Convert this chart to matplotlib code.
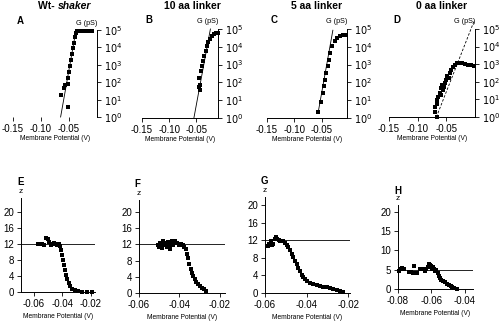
import numpy as np
import matplotlib
matplotlib.use('Agg')
import matplotlib.pyplot as plt
from matplotlib.ticker import FixedLocator, FuncFormatter

plt.rcParams['font.family'] = ['Liberation Sans', 'DejaVu Sans']

# top row: membrane potential (V) vs log10 G (pS)
a_v = [-0.0637, -0.0578, -0.0561, -0.052, -0.052, -0.0503, -0.052, -0.048, -0.0462, -0.0444,
       -0.0427, -0.0409, -0.0392, -0.0374, -0.0357, -0.0316, -0.028, -0.024, -0.02, -0.016, -0.012, -0.0085]
a_logg = [1.29, 1.69, 1.83, 1.92, 2.27, 2.6, 0.58, 2.92, 3.27, 3.62,
          3.94, 4.27, 4.58, 4.81, 4.94, 4.96, 4.96, 4.96, 4.96, 4.96, 4.96, 4.96]
a_fit_v = [-0.0646, -0.0372]
a_fit_logg = [0, 5]

b_v = [-0.0458, -0.044, -0.044, -0.0452, -0.041, -0.039, -0.0368, -0.035, -0.0326, -0.030,
       -0.0277, -0.0253, -0.0217, -0.018, -0.0138, -0.0108]
b_logg = [2.25, 1.87, 1.59, 1.74, 2.62, 2.9, 3.18, 3.46, 3.75, 4.03,
          4.25, 4.44, 4.63, 4.72, 4.76, 4.78]
b_fit_v = [-0.0544, -0.024]
b_fit_logg = [0, 5]

c_v = [-0.0567, -0.0518, -0.0487, -0.0464, -0.044, -0.0415, -0.039, -0.0367, -0.0342, -0.0306,
       -0.0264, -0.0222, -0.0173, -0.0113, -0.0064]
c_logg = [0.32, 0.88, 1.4, 1.78, 2.15, 2.53, 2.9, 3.28, 3.65, 4.03,
          4.31, 4.49, 4.59, 4.64, 4.66]
c_fit_v = [-0.0567, -0.0298]
c_fit_logg = [0.3, 4.93]

d_v = [-0.0703, -0.0691, -0.0668, -0.0645, -0.0656, -0.0616, -0.0587, -0.0599, -0.0558, -0.057,
       -0.053, -0.0541, -0.05, -0.0483, -0.046, -0.0443, -0.0414, -0.0385, -0.0356, -0.031,
       -0.027, -0.023, -0.0183, -0.0125, -0.0068, -0.002, -0.067]
d_logg = [0.29, 0.57, 0.95, 1.15, 0.76, 1.34, 1.24, 1.62, 1.53, 1.81,
          1.91, 1.68, 2.1, 2.33, 2.19, 2.48, 2.67, 2.86, 2.96, 3.05,
          3.09, 3.05, 3.02, 2.98, 2.94, 2.9, 0.0]
d_fit_v = [-0.0673, -0.001]
d_fit_logg = [0, 5.5]

# bottom row: membrane potential (V) vs z
e_v = [-0.0572, -0.0558, -0.0544, -0.0529, -0.0511, -0.0501, -0.0492, -0.0482, -0.0471, -0.0459,
       -0.0447, -0.0435, -0.0426, -0.0416, -0.0407, -0.04, -0.0393, -0.0386, -0.0379, -0.0372,
       -0.0365, -0.0355, -0.0346, -0.0332, -0.0313, -0.0289, -0.0259, -0.0224, -0.0188]
e_z = [12.1, 12.0, 12.1, 11.7, 13.6, 13.2, 12.6, 11.7, 11.9, 12.3,
       12.1, 11.7, 11.9, 11.4, 10.4, 9.3, 8.0, 6.8, 5.5, 4.3,
       3.2, 2.2, 1.4, 0.8, 0.4, 0.2, 0.1, 0.05, 0.0]

f_v = [-0.0505, -0.05, -0.0495, -0.0489, -0.0485, -0.048, -0.0475, -0.0469, -0.0464, -0.0459,
       -0.0452, -0.0448, -0.0443, -0.0436, -0.0431, -0.0423, -0.0418, -0.041, -0.0403, -0.0397,
       -0.039, -0.0384, -0.0377, -0.037, -0.0364, -0.0357, -0.0351, -0.0344, -0.0338, -0.0331,
       -0.0325, -0.0318, -0.0308, -0.0298, -0.0289, -0.0279, -0.0269]
f_z = [11.9, 11.4, 12.4, 11.8, 11.1, 12.8, 11.9, 12.2, 11.4, 12.6,
       11.9, 10.9, 12.3, 12.8, 11.8, 12.9, 12.2, 12.4, 11.8, 11.9,
       12.1, 11.8, 11.4, 10.8, 9.7, 8.5, 7.2, 6.0, 5.0, 4.2,
       3.4, 2.7, 2.2, 1.7, 1.2, 0.9, 0.6]

g_v = [-0.0584, -0.0579, -0.0573, -0.0566, -0.056, -0.0552, -0.0547, -0.0541, -0.0534, -0.0528,
       -0.052, -0.0512, -0.0504, -0.0496, -0.0488, -0.048, -0.0472, -0.0464, -0.0456, -0.0448,
       -0.044, -0.0432, -0.0424, -0.0416, -0.0408, -0.0397, -0.0384, -0.0368, -0.0352, -0.0336,
       -0.032, -0.0304, -0.0288, -0.0272, -0.0256, -0.024, -0.0224]
g_z = [10.6, 11.2, 11.7, 10.9, 11.1, 12.2, 12.7, 12.2, 12.0, 11.8,
       11.8, 11.7, 11.4, 11.0, 10.4, 9.7, 8.9, 8.1, 7.2, 6.5,
       5.7, 4.9, 4.2, 3.6, 3.2, 2.7, 2.3, 2.0, 1.8, 1.7,
       1.4, 1.3, 1.1, 0.9, 0.7, 0.5, 0.2]

h_v = [-0.0796, -0.0786, -0.0777, -0.0767, -0.0734, -0.0722, -0.0711, -0.0699, -0.0689, -0.0703,
       -0.067, -0.066, -0.065, -0.0641, -0.0631, -0.0621, -0.0616, -0.061, -0.0602, -0.0596,
       -0.059, -0.0583, -0.0577, -0.0571, -0.0563, -0.0555, -0.0548, -0.054, -0.053, -0.052,
       -0.0509, -0.0497, -0.0485, -0.0474, -0.0462, -0.0447]
h_z = [4.8, 5.2, 5.4, 5.2, 4.3, 4.3, 4.2, 4.2, 4.1, 5.9,
       5.1, 5.3, 5.2, 4.8, 5.1, 5.8, 6.5, 6.2, 5.9, 5.3,
       5.8, 5.2, 4.7, 4.9, 4.1, 3.4, 2.9, 2.4, 2.1, 1.7,
       1.4, 1.0, 0.7, 0.4, 0.3, 0.1]

titles = ['Wt- ', '10 aa linker', '5 aa linker', '0 aa linker']
top_letters = ['A', 'B', 'C', 'D']
bot_letters = ['E', 'F', 'G', 'H']
z_lines = [12, 12, 12, 5]

W, H = 500, 328
fig = plt.figure(figsize=(5, 3.28), dpi=100)


def add_ax(l, r, b, t):
    return fig.add_axes([l / W, (H - b) / H, (r - l) / W, (b - t) / H])


def logfmt(val, pos):
    return r'$10^{%d}$' % int(round(np.log10(val)))


top = [
    ((12.5, 97, 117, 30), (-0.15, 0.0), a_v, a_logg, a_fit_v, a_fit_logg, '-'),
    ((142, 218, 118, 29), (-0.15, -0.01), b_v, b_logg, b_fit_v, b_fit_logg, '-'),
    ((267, 347, 118, 29), (-0.15, -0.004), c_v, c_logg, c_fit_v, c_fit_logg, '-'),
    ((389, 475, 117, 29), (-0.15, 0.0), d_v, d_logg, d_fit_v, d_fit_logg, (0, (3, 2))),
]

for i, (box, xl, v, lg, fv, fl, ls) in enumerate(top):
    ax = add_ax(*box)
    ax.set_yscale('log')
    ax.scatter(v, 10 ** np.array(lg), s=5, marker='s', color='black', linewidths=0, clip_on=False)
    ax.plot(fv, 10 ** np.array(fl), color='black', lw=0.6, ls=ls, clip_on=False)
    ax.set_xlim(xl)
    ax.set_ylim(1, 1e5)
    ax.spines['top'].set_visible(False)
    ax.spines['left'].set_visible(False)
    ax.spines['right'].set_linewidth(0.7)
    ax.spines['bottom'].set_linewidth(0.7)
    if i == 0:
        ax.spines['bottom'].set_visible(False)
    ax.yaxis.tick_right()
    ax.yaxis.set_major_locator(FixedLocator([1, 10, 100, 1e3, 1e4, 1e5]))
    ax.yaxis.set_minor_locator(FixedLocator([]))
    ax.yaxis.set_major_formatter(FuncFormatter(logfmt))
    ax.set_xticks([-0.15, -0.10, -0.05])
    ax.set_xticklabels(['-0.15', '-0.10', '-0.05'])
    ax.tick_params(axis='both', labelsize=7, width=0.6, length=3, pad=2)
    ax.set_xlabel('Membrane Potential (V)', fontsize=4.8, labelpad=1)
    ax.text(1.0, 1.04, 'G (pS)', transform=ax.transAxes, fontsize=5.2, ha='right', va='bottom')
    ax.text(0.05, 1.1, top_letters[i], transform=ax.transAxes, fontsize=7, fontweight='bold',
            ha='left', va='center')

# titles
fig.text(58 / W, 1 - 6 / H, titles[0], fontsize=7.5, fontweight='bold', ha='right', va='center')
fig.text(58 / W, 1 - 6 / H, 'shaker', fontsize=7.5, fontweight='bold', style='italic',
         ha='left', va='center')
for xc, t in zip([192, 317, 442], titles[1:]):
    fig.text(xc / W, 1 - 6 / H, t, fontsize=7.5, fontweight='bold', ha='center', va='center')

bottom = [
    ((21, 95, 292, 198), (-0.069, -0.017), (0, 23.5), [0, 4, 8, 12, 16, 20], e_v, e_z,
     ['-0.06', '-0.04', '-0.02'], [-0.06, -0.04, -0.02]),
    ((139, 225, 293, 200), (-0.06, -0.0175), (0, 22.9), [0, 4, 8, 12, 16, 20], f_v, f_z,
     ['-0.06', '-0.04', '-0.02'], [-0.06, -0.04, -0.02]),
    ((265, 350, 293, 197), (-0.06, -0.0192), (0, 21.8), [0, 4, 8, 12, 16, 20], g_v, g_z,
     ['-0.06', '-0.04', '-0.02'], [-0.06, -0.04, -0.02]),
    ((398, 473, 289, 205), (-0.08, -0.035), (0, 21.8), [0, 5, 10, 15, 20], h_v, h_z,
     ['-0.08', '-0.06', '-0.04'], [-0.08, -0.06, -0.04]),
]

for i, (box, xl, yl, yt, v, z, xtl, xt) in enumerate(bottom):
    ax = add_ax(*box)
    ax.scatter(v, z, s=5, marker='s', color='black', linewidths=0, clip_on=False)
    ax.axhline(z_lines[i], color='black', lw=0.6)
    ax.set_xlim(xl)
    ax.set_ylim(yl)
    ax.spines['top'].set_visible(False)
    ax.spines['right'].set_visible(False)
    ax.spines['left'].set_linewidth(0.7)
    ax.spines['bottom'].set_linewidth(0.7)
    ax.set_yticks(yt)
    ax.set_xticks(xt)
    ax.set_xticklabels(xtl)
    ax.tick_params(axis='both', labelsize=7, width=0.6, length=3, pad=2)
    ax.set_xlabel('Membrane Potential (V)', fontsize=4.8, labelpad=3)
    ax.text(0.0, 1.03, 'z', transform=ax.transAxes, fontsize=6, ha='center', va='bottom')
    ax.text(-0.05, 1.17, bot_letters[i], transform=ax.transAxes, fontsize=7, fontweight='bold',
            ha='left', va='center')

fig.savefig('out.png', dpi=100)
